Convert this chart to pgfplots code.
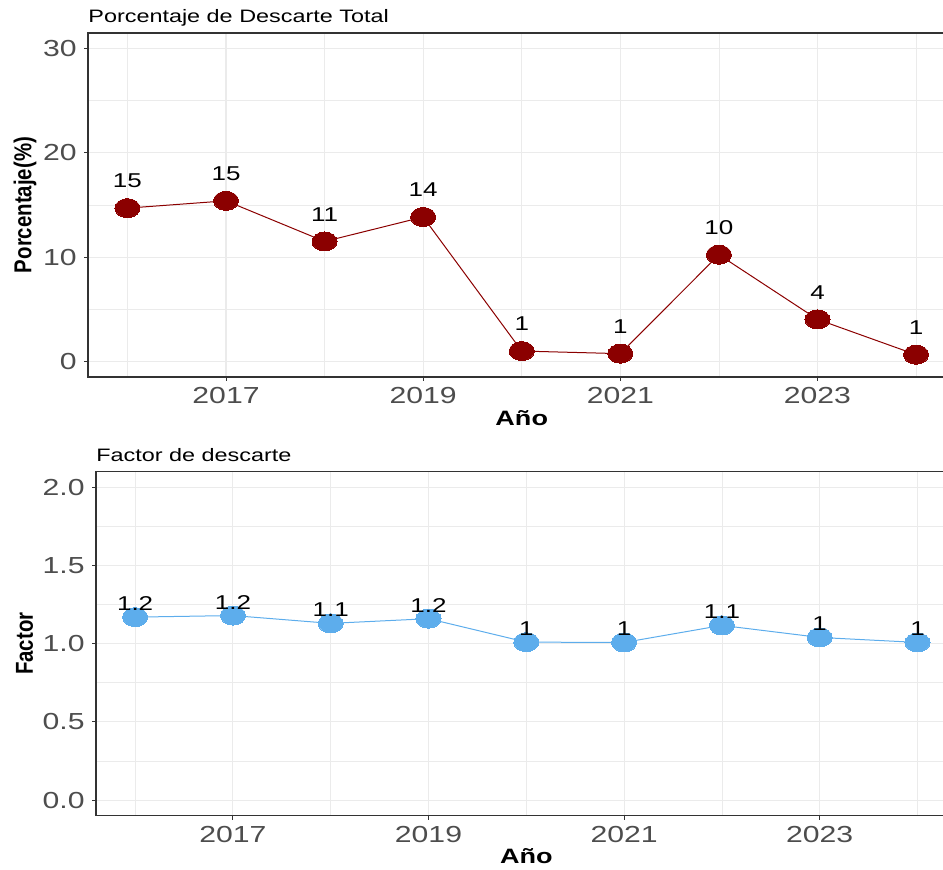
\documentclass[border=0pt]{standalone}
\usepackage{fontspec}
\setmainfont{Liberation Sans}[FakeStretch=1.3]
\newfontfamily\plainsans{Liberation Sans}
\usepackage{graphicx}
\usepackage{pgfplots}
\usepackage{pgfplotstable}
\pgfplotsset{compat=1.18}

\definecolor{ptred}{HTML}{8B0000}
\definecolor{ptblue}{HTML}{5DADEC}
\definecolor{gridc}{HTML}{EBEBEB}
\definecolor{framec}{HTML}{333333}
\definecolor{tickc}{HTML}{4D4D4D}

% porcentaje de descarte total
\pgfplotstableread{
yr   v     lab
2016 14.7  15
2017 15.4  15
2018 11.5  11
2019 13.85 14
2020 0.99  1
2021 0.74  1
2022 10.23 10
2023 4.03  4
2024 0.64  1
}\toptab

% factor de descarte
\pgfplotstableread{
yr   v     lab
2016 1.17  1.2
2017 1.18  1.2
2018 1.13  1.1
2019 1.16  1.2
2020 1.01  1
2021 1.008 1
2022 1.117 1.1
2023 1.04  1
2024 1.008 1
}\bottab

\pgfplotsset{
  ggpanel/.style={
    scale only axis, anchor=south west,
    height=172pt,
    xmin=2015.6, xmax=2024.4,
    xtick={2017,2019,2021,2023}, xticklabels={2017,2019,2021,2023},
    minor xtick={2016,2018,2020,2022,2024},
    grid=both,
    major grid style={gridc, line width=0.55pt},
    minor grid style={gridc, line width=0.3pt},
    axis line style={framec, line width=0.6pt},
    tick style={framec, line width=0.5pt},
    tick align=outside, major tick length=2pt, minor tick length=0pt,
    tick pos=left,
    /pgf/number format/assume math mode=true,
    ticklabel style={font=\fontsize{11.6}{13}\selectfont, text=tickc},
    xticklabel style={inner sep=0pt, yshift=-3pt},
    yticklabel style={inner sep=0pt, xshift=-3.5pt},
    title style={at={(0,1)}, anchor=base west, yshift=-0.7pt, inner sep=0pt,
      font=\fontsize{9}{11}\selectfont},
    xlabel style={at={(0.5,0)}, anchor=base, yshift=-24pt, inner sep=0pt,
      font=\fontsize{10.4}{12}\selectfont\bfseries},
    ylabel style={anchor=center, inner sep=0pt},
    every node near coord/.append style={anchor=center,
      font=\fontsize{10}{12}\selectfont, text=black},
  }
}

\begin{document}
\begin{tikzpicture}
\useasboundingbox (0,0) rectangle (471.5pt,434.5pt);

\begin{axis}[ggpanel,
  at={(44pt,246pt)}, width=433.75pt,
  ymin=-1.5, ymax=31.5,
  ytick={0,10,20,30}, yticklabels={0,10,20,30},
  minor ytick={5,15,25},
  title={Porcentaje de Descarte Total},
  xlabel={Año},
  ylabel={\plainsans\bfseries\fontsize{10.2}{12}\selectfont\scalebox{1}[1.2]{Porcentaje(\%)}},
  ylabel style={at={(axis description cs:-0.0726,0.5)}},
]
\addplot[ptred, line width=0.5pt, mark=*, mark size=4.75pt,
  mark options={xscale=1.32, fill=ptred, draw=ptred, line width=0pt}]
  table[x=yr, y=v]{\toptab};
\addplot[draw=none, nodes near coords, point meta=explicit symbolic,
  every node near coord/.append style={yshift=13.5pt}]
  table[x=yr, y=v, meta=lab]{\toptab};
\end{axis}

\begin{axis}[ggpanel,
  at={(48pt,26.65pt)}, width=430.3pt,
  ymin=-0.1, ymax=2.1,
  ytick={0,0.5,1,1.5,2}, yticklabels={0.0,0.5,1.0,1.5,2.0},
  minor ytick={0.25,0.75,1.25,1.75},
  title={Factor de descarte},
  xlabel={Año},
  ylabel={\plainsans\bfseries\fontsize{10.2}{12}\selectfont\scalebox{1}[1.2]{Factor}},
  ylabel style={at={(axis description cs:-0.0831,0.5)}},
]
\addplot[ptblue, line width=0.5pt, mark=*, mark size=4.75pt,
  mark options={xscale=1.32, fill=ptblue, draw=ptblue, line width=0pt}]
  table[x=yr, y=v]{\bottab};
\addplot[draw=none, nodes near coords, point meta=explicit symbolic,
  every node near coord/.append style={yshift=6.7pt}]
  table[x=yr, y=v, meta=lab]{\bottab};
\end{axis}
\end{tikzpicture}
\end{document}
